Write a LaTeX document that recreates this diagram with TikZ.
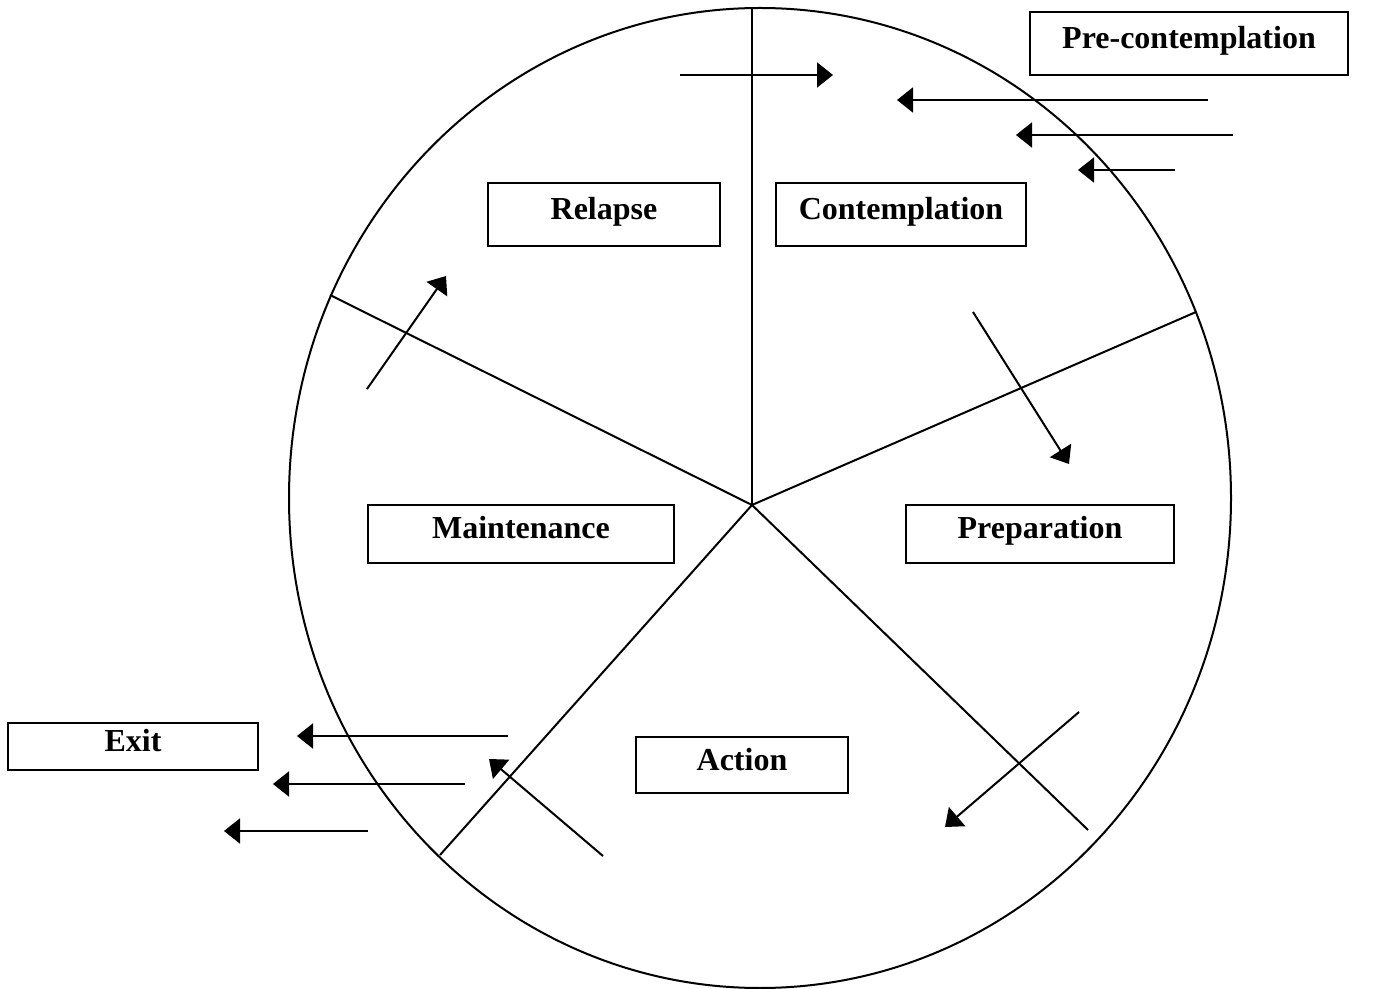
\documentclass[tikz,border=0pt]{standalone}
\usepackage{fontspec}
\setmainfont{Liberation Serif}
\usetikzlibrary{arrows.meta}
\tikzset{stage/.style={draw, line width=1pt, inner sep=0pt,
    font=\fontsize{16}{19}\selectfont\bfseries, text height=10pt, text depth=5pt},
  arr/.style={line width=1pt, -{Triangle[length=8pt,width=12.5pt]}}}

\begin{document}
\begin{tikzpicture}[x=0.5pt, y=-0.5pt]
      \useasboundingbox (0, 0) rectangle (1377, 989);

      \draw [line width=1pt] (760, 498) ellipse [x radius=471, y radius=490];

      \coordinate (hub) at (752, 505);
      \draw [line width=1pt] (hub) -- (752, 8);
      \draw [line width=1pt] (hub) -- (1196, 312);
      \draw [line width=1pt] (hub) -- (330, 295);
      \draw [line width=1pt] (hub) -- (440, 855);
      \draw [line width=1pt] (hub) -- (1088, 830);

      \node [stage, minimum width=159pt, minimum height=31.5pt] (pre) at (1189, 43.5) {Pre-contemplation};
      \node [stage, minimum width=116pt, minimum height=31.5pt] (relapse) at (604, 214.5) {Relapse};
      \node [stage, minimum width=125pt, minimum height=31.5pt] (contemp) at (901, 214.5) {Contemplation};
      \node [stage, minimum width=153pt, minimum height=29pt] (maint) at (521, 534) {Maintenance};
      \node [stage, minimum width=134pt, minimum height=29pt] (prep) at (1040, 534) {Preparation};
      \node [stage, minimum width=125pt, minimum height=23.5pt] (exit) at (133, 746.5) {Exit};
      \node [stage, minimum width=106pt, minimum height=28pt] (action) at (742, 765) {Action};

      % arrows between the stages
      \draw [arr] (680, 75) -- (833, 75);
      \draw [arr] (1208, 100) -- (897, 100);
      \draw [arr] (1233, 135) -- (1016, 135);
      \draw [arr] (1175, 170) -- (1078, 170);
      \draw [arr] (973, 312) -- (1069, 464);
      \draw [arr] (1079, 712) -- (945, 827);
      \draw [arr] (603, 856) -- (489, 759);
      \draw [arr] (367, 389) -- (446, 276);

      % arrows to exit
      \draw [arr] (508, 736) -- (297, 736);
      \draw [arr] (465, 784) -- (273, 784);
      \draw [arr] (368, 831) -- (224, 831);
    \end{tikzpicture}
\end{document}
